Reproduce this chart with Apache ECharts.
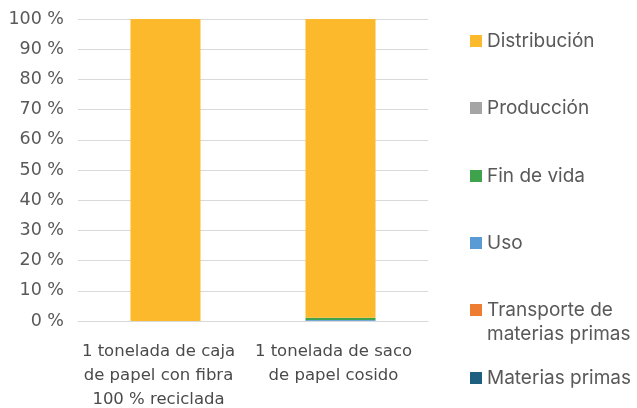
<!DOCTYPE html>
<html><head><meta charset="utf-8">
<script src="https://cdn.jsdelivr.net/npm/echarts@6/dist/echarts.min.js"></script>
<style>html,body{margin:0;padding:0;background:#fff}#c{width:637px;height:408px}</style>
</head><body><div id="c"></div>
<script>
const categories = ['1 tonelada de caja\nde papel con fibra\n100 % reciclada', '1 tonelada de saco\nde papel cosido'];
const materiasPrimas = [0, 0.05];
const transporte = [0, 0];
const uso = [0, 0.3];
const finDeVida = [0, 0.7];
const produccion = [0, 0.05];
const distribucion = [100, 98.9];
const yTicks = [0, 10, 20, 30, 40, 50, 60, 70, 80, 90, 100];

const seriesDefs = [
  {name: 'Materias primas', data: materiasPrimas, color: '#1F5F7F'},
  {name: 'Transporte de materias primas', data: transporte, color: '#ED7D31'},
  {name: 'Uso', data: uso, color: '#5B9BD5'},
  {name: 'Fin de vida', data: finDeVida, color: '#3FA34D'},
  {name: 'Producción', data: produccion, color: '#A5A5A5'},
  {name: 'Distribución', data: distribucion, color: '#FBB92B'}
];
const legendCenters = {'Distribución': 41, 'Producción': 108, 'Fin de vida': 176, 'Uso': 243, 'Transporte de materias primas': 310, 'Materias primas': 378};
const legendFont = 'Inter, "Noto Sans", sans-serif';
const axisFont = '"DejaVu Sans", sans-serif';
const chart = echarts.init(document.getElementById('c'));
chart.setOption({
  animation: false,
  grid: {left: 78, right: 209, top: 19, bottom: 87, outerBoundsMode: 'none', containLabel: false},
  xAxis: {
    type: 'category', data: categories,
    axisLine: {lineStyle: {color: '#D9D9D9', width: 1}},
    axisTick: {show: false},
    axisLabel: {color: '#4A4A4A', fontSize: 16.5, fontFamily: axisFont, lineHeight: 24, margin: 19, interval: 0, padding: [0, 14, 0, 0]}
  },
  yAxis: {
    type: 'value', min: yTicks[0], max: yTicks[yTicks.length - 1], interval: 10,
    axisLine: {show: false}, axisTick: {show: false},
    splitLine: {lineStyle: {color: '#D9D9D9', width: 1}},
    axisLabel: {color: '#595959', fontSize: 17.5, fontFamily: axisFont, margin: 14, formatter: '{value} %'}
  },
  legend: seriesDefs.map(s => ({
    data: [s.name], left: 470, top: legendCenters[s.name] - 10, orient: 'vertical',
    itemWidth: 12, itemHeight: 12, itemGap: 0, selectedMode: false,
    icon: 'rect', padding: 0,
    formatter: n => n === 'Transporte de materias primas' ? 'Transporte de' : n,
    textStyle: {color: '#595959', fontSize: 19, lineHeight: 20, fontFamily: legendFont}
  })),
  graphic: [{type: 'text', left: 487, top: 325, style: {text: 'materias primas', fill: '#595959', font: '19px ' + legendFont}}],
  series: seriesDefs.map(s => ({
    name: s.name, type: 'bar', stack: 'total', data: s.data, barWidth: 70,
    itemStyle: {color: s.color}
  }))
});
</script></body></html>
